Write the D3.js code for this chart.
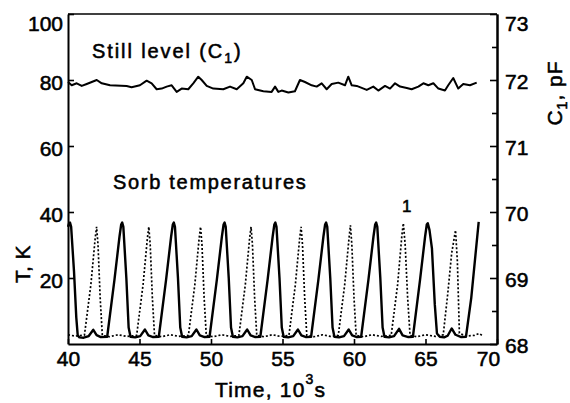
<!DOCTYPE html>
<html>
<head>
<meta charset="utf-8">
<script src="https://cdn.jsdelivr.net/npm/d3@7"></script>
<style>
  body { margin: 0; background: #fff; }
  svg text { font-family: "Liberation Sans", Arial, sans-serif; fill: #000; }
</style>
</head>
<body>
<svg id="chart"></svg>
<script>
// ticks
const timeTicks = [40, 45, 50, 55, 60, 65, 70];
const tempTicks = [20, 40, 60, 80, 100];
const capTicks = [68, 69, 70, 71, 72, 73];
const capMinor = [68.5, 69.5, 70.5, 71.5, 72.5];

// still level C1 (time 10^3 s, pF)
const stillLevel = [
  [40.0, 71.97], [40.26, 71.92], [40.61, 71.95], [40.96, 71.91], [41.31, 71.94], [41.66, 71.97],
  [42.01, 72.0], [42.36, 71.95], [42.94, 71.92], [44.1, 71.91], [44.45, 71.89], [45.03, 71.92],
  [45.5, 71.99], [45.85, 71.95], [46.2, 71.86], [46.55, 71.87], [46.9, 71.9], [47.25, 71.92],
  [47.6, 71.82], [47.95, 71.87], [48.41, 71.86], [48.76, 71.95], [49.11, 72.05], [49.35, 72.0],
  [49.7, 71.91], [50.16, 71.87], [50.86, 71.86], [51.33, 71.9], [51.8, 71.86], [52.26, 71.95],
  [52.5, 72.05], [52.85, 72.0], [53.08, 71.86], [53.66, 71.83], [54.24, 71.82], [54.48, 71.9],
  [54.71, 71.82], [54.94, 71.84], [55.41, 71.81], [55.87, 71.83], [56.22, 72.0], [56.57, 71.97],
  [57.04, 71.92], [57.39, 71.9], [57.74, 71.95], [58.09, 71.86], [58.44, 71.94], [58.9, 71.96],
  [59.37, 71.92], [59.6, 72.05], [59.84, 71.92], [60.19, 71.91], [60.89, 71.85], [61.35, 71.9],
  [61.7, 71.84], [62.17, 71.91], [62.52, 71.87], [62.87, 71.95], [63.22, 71.9], [63.69, 71.88],
  [64.03, 71.86], [64.5, 71.9], [64.85, 71.95], [65.2, 71.92], [65.55, 71.95], [65.9, 71.87],
  [66.36, 71.84], [66.59, 71.92], [66.94, 72.03], [67.29, 71.87], [67.64, 71.94], [68.11, 71.92],
  [68.58, 71.96]
];

// sorb 1 temperature, solid (time, K)
const sorbSolid = [
  [40.0, 35.5], [40.07, 36.5], [40.14, 36.8], [40.22, 35.5], [40.42, 22], [40.58, 8], [40.68, 2.6],
  [40.8, 2.0], [41.1, 1.9], [41.45, 2.4], [41.77, 4.3], [42.0, 2.7], [42.3, 2.1], [42.74, 2.2],
  [43.25, 19.5], [43.6, 32.5], [43.72, 36.2], [43.79, 36.8], [43.87, 35.5], [44.08, 20], [44.24, 5],
  [44.37, 2.2], [44.7, 2.0], [45.05, 2.4], [45.38, 4.4], [45.62, 2.6], [45.95, 2.1], [46.35, 2.2],
  [46.86, 19.5], [47.21, 32.5], [47.33, 36.2], [47.4, 36.8], [47.48, 35.5], [47.69, 20], [47.85, 5],
  [47.98, 2.2], [48.3, 2.0], [48.65, 2.4], [48.98, 4.4], [49.22, 2.6], [49.55, 2.1], [49.9, 2.2],
  [50.41, 19.5], [50.76, 32.5], [50.88, 36.2], [50.95, 36.8], [51.03, 35.5], [51.24, 20], [51.4, 5],
  [51.53, 2.2], [51.85, 2.0], [52.2, 2.4], [52.53, 4.4], [52.77, 2.6], [53.1, 2.1], [53.45, 2.2],
  [53.96, 19.5], [54.31, 32.5], [54.43, 36.2], [54.5, 36.8], [54.58, 35.5], [54.79, 20], [54.95, 5],
  [55.08, 2.2], [55.4, 2.0], [55.75, 2.4], [56.08, 4.4], [56.32, 2.6], [56.65, 2.1], [57.0, 2.2],
  [57.51, 19.5], [57.86, 32.5], [57.98, 36.2], [58.05, 36.8], [58.13, 35.5], [58.34, 20], [58.5, 5],
  [58.63, 2.2], [58.95, 2.0], [59.3, 2.4], [59.63, 4.4], [59.87, 2.6], [60.2, 2.1], [60.5, 2.2],
  [61.01, 19.5], [61.36, 32.5], [61.48, 36.2], [61.55, 36.8], [61.63, 35.5], [61.84, 20], [62.0, 5],
  [62.13, 2.2], [62.45, 2.0], [62.8, 2.4], [63.15, 4.6], [63.4, 2.6], [63.8, 2.1], [64.12, 2.2],
  [64.62, 19.5], [64.97, 32.5], [65.09, 36.2], [65.16, 36.6], [65.28, 34.5], [65.45, 29], [65.65, 12],
  [65.8, 3.2], [66.0, 2.2], [66.3, 2.0], [66.55, 2.5], [66.83, 4.7], [67.1, 2.8], [67.5, 2.1],
  [67.83, 2.2], [68.2, 14], [68.53, 28.6], [68.72, 37]
];

// sorb 2 temperature, dotted (time, K)
const sorbDotted = [
  [40.0, 2.8], [40.5, 2.4], [41.15, 2.7],
  [41.6, 18], [41.9, 32], [42.0, 35.5], [42.1, 30], [42.25, 14], [42.4, 2.6], [42.9, 2.2], [43.5, 2.8], [44.1, 2.3], [44.8, 2.6],
  [45.25, 18], [45.55, 32], [45.65, 35.5], [45.75, 30], [45.9, 14], [46.05, 2.6], [46.55, 2.2], [47.15, 2.8], [47.75, 2.3], [48.42, 2.6],
  [48.87, 18], [49.17, 32], [49.27, 35.5], [49.37, 30], [49.52, 14], [49.67, 2.6], [50.15, 2.2], [50.75, 2.8], [51.35, 2.3], [51.95, 2.6],
  [52.4, 18], [52.7, 32], [52.8, 35.5], [52.9, 30], [53.05, 14], [53.2, 2.6], [53.7, 2.2], [54.3, 2.8], [54.85, 2.3], [55.45, 2.6],
  [55.9, 18], [56.2, 32], [56.3, 35.5], [56.4, 30], [56.55, 14], [56.7, 2.6], [57.2, 2.2], [57.8, 2.8], [58.35, 2.3], [58.9, 2.6],
  [59.35, 18], [59.65, 32], [59.75, 36], [59.85, 30], [60.0, 14], [60.15, 2.6], [60.65, 2.2], [61.25, 2.8], [61.9, 2.3], [62.6, 2.6],
  [63.05, 18], [63.35, 33], [63.45, 36.6], [63.58, 30], [63.75, 14], [63.92, 2.6], [64.4, 2.2], [65.0, 2.8], [65.7, 2.3], [66.24, 2.8],
  [66.55, 15], [66.83, 27.5], [67.1, 34.5], [67.23, 25], [67.37, 3.3], [67.8, 2.4], [68.4, 2.6], [68.75, 3.2], [69.0, 2.5]
];

const W = 570, H = 403;
const svg = d3.select("#chart").attr("width", W).attr("height", H);

const x = d3.scaleLinear().domain([40, 70]).range([68, 497]);
const yT = d3.scaleLinear().domain([0, 100]).range([344, 14]);
const yC = d3.scaleLinear().domain([68, 73]).range([344, 14]);

const fontAxis = g => g.attr("font-size", 21).attr("font-family", null)
  .call(g => g.selectAll("text").attr("stroke", "#000").attr("stroke-width", 0.55))
  .call(g => g.select(".domain").attr("stroke-width", 2))
  .call(g => g.selectAll(".tick line").attr("stroke-width", 1.6));

// frame top
svg.append("line")
  .attr("x1", x(40)).attr("x2", x(70))
  .attr("y1", yT(100)).attr("y2", yT(100))
  .attr("stroke", "#000").attr("stroke-width", 1.6);

// left axis
svg.append("g")
  .attr("transform", `translate(${x(40)},0)`)
  .call(d3.axisLeft(yT).tickValues(tempTicks).tickSizeInner(-6).tickSizeOuter(0).tickPadding(5))
  .call(fontAxis)
  .call(g => g.selectAll(".tick text").attr("dy", d => d === 100 ? "0.8em" : "0.45em"));

// bottom axis
svg.append("g")
  .attr("transform", `translate(0,${yT(0)})`)
  .call(d3.axisBottom(x).tickValues(timeTicks).tickSizeInner(-5).tickSizeOuter(0).tickPadding(7))
  .call(fontAxis)
  .call(g => g.selectAll(".tick text").attr("dx", d => d === 70 ? -9 : 0));

// right axis, minor ticks
svg.append("g")
  .attr("transform", `translate(${x(70)},0)`)
  .call(d3.axisRight(yC).tickValues(capMinor).tickSizeInner(-5).tickSizeOuter(0).tickFormat(""))
  .call(fontAxis);

// right axis, major ticks
svg.append("g")
  .attr("transform", `translate(${x(70)},0)`)
  .call(d3.axisRight(yC).tickValues(capTicks).tickFormat(d3.format("d"))
    .tickSizeInner(-7).tickSizeOuter(0).tickPadding(8))
  .call(fontAxis)
  .call(g => g.selectAll(".tick text").attr("dy", d => d === 73 ? "0.8em" : "0.42em"));

// lines
const lineT = d3.line().x(d => x(d[0])).y(d => yT(d[1]));
const lineC = d3.line().x(d => x(d[0])).y(d => yC(d[1]));

svg.append("path").datum(stillLevel)
  .attr("d", lineC).attr("fill", "none")
  .attr("stroke", "#000").attr("stroke-width", 2).attr("stroke-linejoin", "round");

svg.append("path").datum(sorbDotted)
  .attr("d", lineT).attr("fill", "none")
  .attr("stroke", "#000").attr("stroke-width", 1.7).attr("stroke-dasharray", "2,2");

svg.append("path").datum(sorbSolid)
  .attr("d", lineT).attr("fill", "none")
  .attr("stroke", "#000").attr("stroke-width", 2.4).attr("stroke-linejoin", "round");

// texts
const label = (xp, yp, size, spacing) => svg.append("text")
  .attr("x", xp).attr("y", yp)
  .attr("font-size", size)
  .attr("letter-spacing", spacing)
  .attr("stroke", "#000").attr("stroke-width", 0.55);

const still = label(92, 58, 20, 1.9);
still.append("tspan").text("Still level (C");
still.append("tspan").attr("font-size", 14).attr("dy", 5).text("1");
still.append("tspan").attr("dy", -5).text(")");

label(113, 189, 20, 1.7).text("Sorb temperatures");

label(402, 212, 17, 0).text("1");

const tl = label(215, 397, 21, 1.2);
tl.append("tspan").text("Time, 10");
tl.append("tspan").attr("font-size", 14).attr("dy", -13).text("3");
tl.append("tspan").attr("dy", 13).text("s");

svg.append("text")
  .attr("transform", "translate(30,264) rotate(-90)")
  .attr("text-anchor", "middle")
  .attr("font-size", 21).attr("letter-spacing", 0.5)
  .attr("stroke", "#000").attr("stroke-width", 0.55)
  .text("T, K");

const cl = svg.append("text")
  .attr("transform", "translate(562,93) rotate(-90)")
  .attr("text-anchor", "middle")
  .attr("font-size", 21).attr("letter-spacing", 1)
  .attr("stroke", "#000").attr("stroke-width", 0.55);
cl.append("tspan").text("C");
cl.append("tspan").attr("font-size", 14).attr("dy", 5).text("1");
cl.append("tspan").attr("dy", -5).text(", pF");
</script>
</body>
</html>
